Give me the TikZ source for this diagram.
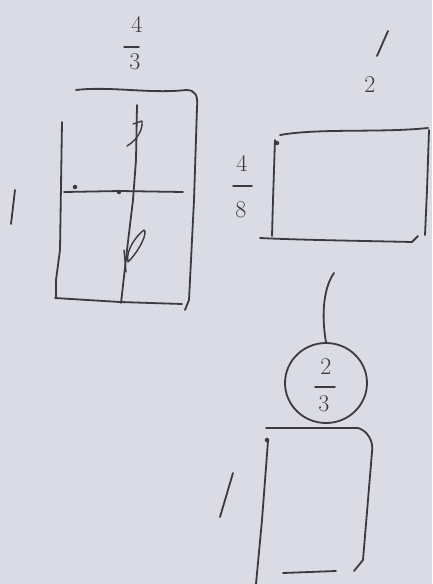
\documentclass[tikz,border=0pt]{standalone}
\usetikzlibrary{shapes.geometric}
\definecolor{paper}{HTML}{DADBE4}
\definecolor{ink}{HTML}{3A3A40}
\begin{document}
\begin{tikzpicture}[x=1pt,y=-1pt,
  pen/.style={draw=ink,line width=1.8pt,line cap=round,line join=round},
  digit/.style={text=ink,font=\fontsize{24}{24}\selectfont,inner sep=0pt},
  bar/.style={pen,line width=1.5pt},
  dotmark/.style={fill=ink,circle,inner sep=1.6pt}]
\fill[paper] (0,0) rectangle (432,584);
\useasboundingbox (0,0) rectangle (432,584);

% ---------- left figure ----------
\draw[pen] (76,90) .. controls (110,86) and (150,94) .. (186,90)
  .. controls (196,90) and (198,96) .. (197,108)
  -- (194,200) -- (189,300) -- (185,310);
\draw[pen] (62,122) -- (60,250) -- (56,280) -- (56,298);
\draw[pen] (55,298) -- (120,302) -- (182,304);
\draw[pen] (64,192) -- (120,191) -- (183,192);
\draw[pen] (137,105) -- (136,160) -- (133,200) -- (127,250) -- (121,303);
\node[dotmark] (d1) at (75,187) {};
\node[dotmark] (d2) at (119,192) {};
% squiggles on the centre line
\draw[pen,line width=1.4pt] (133,124) -- (142,121) .. controls (143,130) and (137,140) .. (127,146);
\draw[pen,line width=1.4pt] (128,262) .. controls (125,250) and (138,234) .. (144,230)
  .. controls (148,232) and (140,250) .. (128,262);
\draw[pen,line width=1.4pt] (124,250) -- (126,272);
% labels
\node[digit] (n43) at (137,24) {4};
\draw[bar] (124,47) -- (139,47);
\node[digit] (d43) at (135,62) {3};
\draw[pen] (15,190) -- (11,224);

% ---------- right top figure ----------
\draw[pen] (280,135) .. controls (320,128) and (380,133) .. (428,128);
\draw[pen] (429,130) -- (427,190) -- (425,235);
\draw[pen] (275,140) -- (273,200) -- (272,236);
\draw[pen] (260,238) .. controls (300,240) and (370,241) .. (412,242) -- (418,236);
\node[dotmark] (d3) at (277,143) {};
\draw[pen] (388,31) -- (377,56);
\node[digit] (n12) at (370,85) {2};
\node[digit] (n48) at (242,163) {4};
\draw[bar] (233,186) -- (252,186);
\node[digit] (d48) at (241,210) {8};

% ---------- bottom figure ----------
\node[draw=ink,line width=1.8pt,ellipse,minimum width=82pt,minimum height=80pt,inner sep=0pt]
  (head) at (326,383) {};
\coordinate (top) at (334,273);
\draw[pen] (top) .. controls (322,290) and (322,320) .. (head.north);
\node[digit] (n23) at (326,367) {2};
\draw[bar] (315,387) -- (335,387);
\node[digit] (d23) at (324,404) {3};
\draw[pen] (266,428) -- (358,428) .. controls (366,430) and (374,440) .. (372,452)
  -- (363,560) -- (354,571);
\draw[pen] (268,441) -- (262,520) -- (256,584);
\draw[pen] (283,573) -- (336,571);
\node[dotmark] (d4) at (267,440) {};
\draw[pen] (233,473) -- (220,517);
\end{tikzpicture}
\end{document}
